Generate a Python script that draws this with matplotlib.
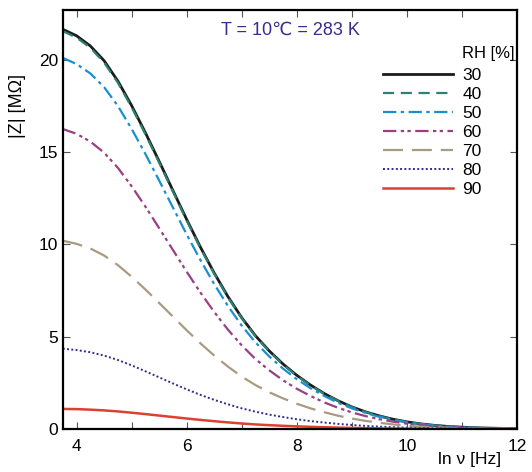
import numpy as np
import matplotlib
matplotlib.use("Agg")
import matplotlib.pyplot as plt
from matplotlib.ticker import MultipleLocator

plt.rcParams["font.family"] = ["Liberation Sans", "DejaVu Sans"]

# ln(frequency) grid in 0.25 steps
ln_nu = [3.75, 4.0, 4.25, 4.5, 4.75, 5.0, 5.25, 5.5, 5.75, 6.0, 6.25, 6.5,
         6.75, 7.0, 7.25, 7.5, 7.75, 8.0, 8.25, 8.5, 8.75, 9.0, 9.25, 9.5,
         9.75, 10.0, 10.25, 10.5, 10.75, 11.0, 11.25, 11.5, 11.75, 12.0]

# |Z| in MOhm for each relative humidity
z_rh30 = [21.65, 21.3, 20.75, 19.95, 18.85, 17.52, 16.05, 14.5, 12.92, 11.35, 9.85, 8.45,
          7.17, 6.03, 5.05, 4.23, 3.52, 2.91, 2.38, 1.92, 1.53, 1.2, 0.93, 0.71,
          0.53, 0.39, 0.28, 0.2, 0.14, 0.1, 0.07, 0.05, 0.035, 0.025]
z_rh40 = [21.55, 21.2, 20.65, 19.85, 18.76, 17.43, 15.97, 14.43, 12.86, 11.29, 9.8, 8.41,
          7.13, 6.0, 5.02, 4.2, 3.49, 2.88, 2.36, 1.9, 1.52, 1.19, 0.92, 0.7,
          0.52, 0.38, 0.28, 0.2, 0.14, 0.1, 0.07, 0.05, 0.035, 0.025]
z_rh50 = [20.1, 19.77, 19.26, 18.52, 17.5, 16.26, 14.9, 13.46, 12.0, 10.54, 9.15, 7.85,
          6.66, 5.6, 4.69, 3.93, 3.27, 2.7, 2.21, 1.79, 1.42, 1.12, 0.87, 0.66,
          0.49, 0.36, 0.26, 0.19, 0.13, 0.09, 0.065, 0.046, 0.032, 0.023]
z_rh60 = [16.25, 15.99, 15.57, 14.97, 14.15, 13.15, 12.05, 10.88, 9.7, 8.52, 7.39, 6.34,
          5.38, 4.53, 3.79, 3.18, 2.64, 2.18, 1.79, 1.44, 1.15, 0.9, 0.7, 0.53,
          0.4, 0.29, 0.21, 0.15, 0.105, 0.075, 0.053, 0.038, 0.026, 0.019]
z_rh70 = [10.2, 10.03, 9.78, 9.4, 8.88, 8.25, 7.56, 6.83, 6.09, 5.35, 4.64, 3.98,
          3.38, 2.84, 2.38, 1.99, 1.66, 1.37, 1.12, 0.91, 0.72, 0.57, 0.44, 0.34,
          0.25, 0.18, 0.13, 0.094, 0.066, 0.047, 0.033, 0.024, 0.017, 0.012]
z_rh80 = [4.35, 4.28, 4.16, 3.98, 3.74, 3.45, 3.13, 2.8, 2.47, 2.15, 1.85, 1.58,
          1.34, 1.12, 0.94, 0.78, 0.65, 0.53, 0.43, 0.35, 0.28, 0.22, 0.17, 0.13,
          0.1, 0.075, 0.055, 0.04, 0.029, 0.021, 0.015, 0.011, 0.008, 0.006]
z_rh90 = [1.09, 1.08, 1.05, 1.01, 0.955, 0.885, 0.81, 0.73, 0.65, 0.57, 0.495, 0.425,
          0.36, 0.3, 0.25, 0.21, 0.175, 0.145, 0.12, 0.097, 0.078, 0.061, 0.047, 0.036,
          0.027, 0.02, 0.015, 0.011, 0.008, 0.006, 0.004, 0.003, 0.002, 0.0015]

rh_labels = ["30", "40", "50", "60", "70", "80", "90"]
series = [z_rh30, z_rh40, z_rh50, z_rh60, z_rh70, z_rh80, z_rh90]

colors = ["#1c1c1c", "#2f7f72", "#1a8fcf", "#9a3f86", "#a99a82", "#2f2f8c", "#dc4030"]
styles = ["-", (0, (5, 3)), (0, (6, 2, 1.5, 2)), (0, (6, 2, 1.5, 1.5, 1.5, 2)),
          (0, (9, 4)), (0, (1, 1.2)), "-"]
widths = [2.0, 1.6, 1.6, 1.6, 1.6, 1.4, 1.8]

fig = plt.figure(figsize=(5.32, 4.72), dpi=100)
ax = fig.add_axes([0.118, 0.091, 0.854, 0.888])

for z, lab, c, ls, lw in zip(series, rh_labels, colors, styles, widths):
    ax.plot(ln_nu, z, color=c, linestyle=ls, linewidth=lw, label=lab)

ax.set_xlim(3.75, 12)
ax.set_ylim(0, 22.7)
ax.set_xticks([4, 6, 8, 10, 12])
ax.xaxis.set_minor_locator(MultipleLocator(1))
ax.set_yticks([0, 5, 10, 15, 20])
ax.tick_params(which="both", direction="in", top=True, right=True, labelsize=12.5,
               width=0.8, color="#555555")
ax.tick_params(which="major", length=5)
ax.tick_params(which="minor", length=5)
ax.tick_params(axis="x", pad=7)
for sp in ax.spines.values():
    sp.set_linewidth(1.6)

ax.set_ylabel("|Z| [MΩ]", fontsize=13)
ax.yaxis.set_label_coords(-0.08, 0.77)
ax.set_xlabel("ln ν [Hz]", fontsize=12.5)
ax.xaxis.set_label_coords(0.895, -0.055)

ax.text(0.5, 0.952, "T = 10℃ = 283 K", transform=ax.transAxes, ha="center", va="center",
        fontsize=13, color="#3b2a8f")

leg = ax.legend(loc="upper left", bbox_to_anchor=(0.69, 0.878), frameon=False, fontsize=12.5,
                handlelength=4.0, labelspacing=0.22, handletextpad=0.55, borderaxespad=0)
ax.text(0.878, 0.897, "RH [%]", transform=ax.transAxes, ha="left", va="center", fontsize=12)

fig.savefig("out.png", dpi=100)
